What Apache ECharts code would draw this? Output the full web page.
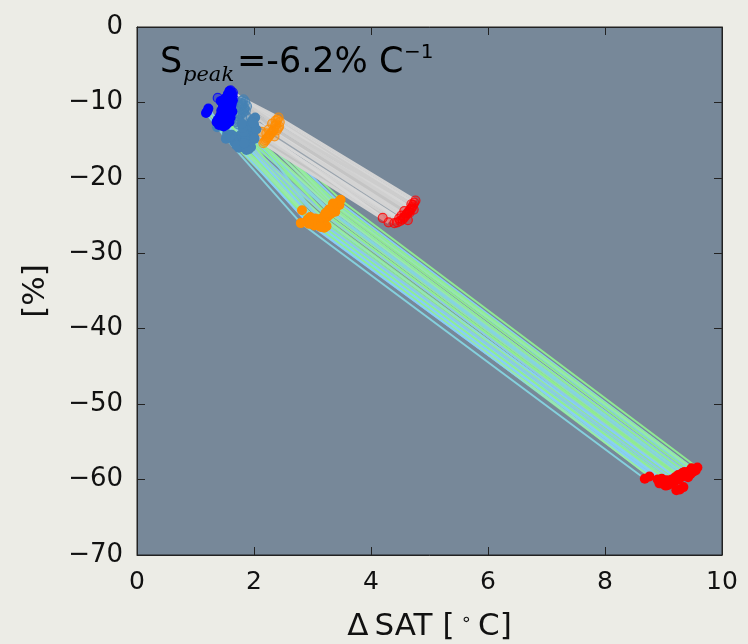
<!DOCTYPE html>
<html><head><meta charset="utf-8">
<script src="https://cdn.jsdelivr.net/npm/echarts@6/dist/echarts.min.js"></script>
<style>html,body{margin:0;padding:0;background:#ecece6;}#c{width:748px;height:644px;}</style>
</head><body><div id="c"></div>
<script>
// ---- Data: filled-marker models (green/blue lines), index i = one model ----
const filledBlue = [[1.58,-8.5],[1.62,-8.8],[1.55,-9.0],[1.60,-9.2],[1.50,-9.5],[1.64,-9.7],[1.53,-9.9],[1.58,-10.1],[1.47,-10.3],[1.61,-10.5],[1.52,-10.7],[1.57,-10.9],[1.44,-11.1],[1.63,-11.2],[1.49,-11.4],[1.55,-11.6],[1.42,-11.8],[1.60,-12.0],[1.46,-12.2],[1.54,-12.4],[1.38,-12.3],[1.58,-12.6],[1.45,-12.8],[1.52,-13.0],[1.48,-13.2],[1.56,-11.0],[1.36,-12.6],[1.51,-11.5],[1.40,-13.0],[1.22,-10.8],[1.20,-11.2],[1.18,-11.4],[1.62,-10.2],[1.57,-9.4],[1.59,-11.8],[1.50,-12.1],[1.53,-12.9],[1.61,-11.4],[1.47,-10.6],[1.43,-9.8]];
const filledSteel = [[2.02,-12.0],[1.98,-12.3],[1.95,-12.6],[2.00,-12.9],[1.92,-13.1],[1.97,-13.4],[1.90,-13.7],[1.94,-14.0],[1.88,-14.2],[1.99,-14.5],[1.86,-14.7],[1.96,-15.0],[1.84,-15.3],[1.93,-15.6],[1.80,-15.9],[1.91,-16.2],[1.76,-14.4],[1.89,-13.2],[1.72,-14.6],[1.85,-15.1],[1.68,-14.9],[1.82,-13.9],[1.66,-15.2],[1.78,-15.5],[1.64,-14.8],[1.74,-16.0],[1.62,-14.3],[1.70,-15.7],[1.37,-13.3],[1.58,-14.6],[1.54,-14.2],[1.52,-14.8],[2.04,-13.6],[2.01,-14.8],[1.95,-15.9],[1.87,-16.3],[1.83,-15.4],[1.98,-12.7],[1.81,-13.4],[1.79,-12.8]];
const filledOrange = [[3.48,-22.9],[3.45,-23.2],[3.43,-23.4],[3.41,-23.6],[3.40,-23.9],[3.38,-24.1],[3.36,-24.3],[3.34,-24.0],[3.33,-24.6],[3.31,-24.8],[3.29,-24.4],[3.27,-25.0],[3.25,-25.2],[3.23,-24.9],[3.21,-25.4],[3.19,-25.6],[3.17,-25.3],[3.15,-25.8],[3.13,-25.5],[3.11,-26.0],[3.09,-25.7],[3.07,-26.2],[3.05,-25.4],[3.03,-26.3],[3.01,-25.6],[2.98,-25.9],[2.96,-25.2],[2.94,-26.1],[2.92,-25.5],[2.90,-25.8],[2.82,-24.3],[2.80,-26.0],[3.46,-23.6],[3.39,-24.5],[3.24,-26.4],[3.20,-26.6],[3.14,-26.5],[3.35,-23.4],[3.28,-24.2],[3.22,-24.7]];
const filledRed = [[9.58,-58.4],[9.52,-58.6],[9.48,-58.7],[9.50,-59.0],[9.44,-58.9],[9.40,-59.2],[9.46,-59.3],[9.36,-59.0],[9.38,-59.5],[9.32,-59.6],[9.30,-59.3],[9.28,-59.8],[9.26,-59.9],[9.24,-60.0],[9.22,-60.1],[9.20,-59.7],[9.18,-60.2],[9.16,-60.4],[9.14,-60.0],[9.12,-60.5],[9.10,-60.3],[9.08,-60.7],[9.06,-60.1],[9.04,-60.8],[9.02,-60.4],[9.00,-60.6],[8.97,-59.9],[8.95,-60.2],[8.93,-60.5],[8.90,-60.0],[8.76,-59.6],[8.68,-59.9],[9.55,-58.8],[9.42,-59.7],[9.34,-61.0],[9.28,-61.3],[9.22,-61.4],[9.48,-58.5],[9.33,-59.1],[9.25,-59.4]];
// ---- Data: hollow-marker models (grey lines) ----
const hollowBlue = [[1.60,-8.4],[1.64,-8.7],[1.56,-8.9],[1.62,-9.1],[1.58,-9.3],[1.66,-9.6],[1.54,-9.8],[1.61,-10.0],[1.38,-9.4],[1.59,-10.7],[1.52,-10.4],[1.57,-11.0],[1.50,-11.3],[1.55,-11.6],[1.48,-11.9],[1.53,-12.2],[1.46,-12.5],[1.63,-9.0],[1.58,-8.6],[1.51,-10.8],[1.60,-12.0],[1.65,-10.3],[1.49,-9.7],[1.56,-11.9]];
const hollowSteel = [[1.82,-9.6],[1.85,-9.9],[1.78,-10.1],[1.80,-10.4],[1.76,-10.6],[1.84,-10.8],[1.79,-11.0],[1.83,-11.2],[1.74,-10.3],[1.81,-11.4],[1.77,-11.6],[1.86,-11.1],[1.72,-11.8],[1.80,-12.0],[1.75,-12.3],[1.70,-12.6],[1.73,-12.9],[1.88,-10.5],[1.79,-9.8],[1.83,-10.9],[1.76,-11.5],[1.87,-11.9],[1.81,-10.2],[1.74,-12.5]];
const hollowOrange = [[2.42,-12.0],[2.40,-12.3],[2.44,-12.6],[2.38,-12.9],[2.36,-13.1],[2.41,-13.4],[2.34,-13.6],[2.32,-13.8],[2.30,-14.0],[2.28,-14.2],[2.26,-14.4],[2.24,-14.6],[2.22,-14.8],[2.20,-15.0],[2.18,-15.2],[2.13,-13.9],[2.16,-15.4],[2.37,-12.4],[2.43,-13.2],[2.35,-14.5],[2.25,-13.6],[2.31,-12.8],[2.39,-13.7],[2.21,-14.1]];
const hollowRed = [[4.76,-23.0],[4.74,-23.3],[4.72,-23.6],[4.70,-23.9],[4.68,-24.1],[4.66,-24.3],[4.64,-24.5],[4.62,-24.7],[4.60,-24.9],[4.58,-25.1],[4.56,-25.3],[4.54,-25.5],[4.50,-25.7],[4.45,-25.9],[4.40,-26.0],[4.20,-25.3],[4.30,-25.9],[4.73,-24.2],[4.69,-23.5],[4.63,-25.6],[4.52,-25.0],[4.66,-24.6],[4.57,-24.4],[4.48,-25.4]];
// ---- Axis ticks ----
const xTicks = [0, 2, 4, 6, 8, 10];
const yTicks = [-70, -60, -50, -40, -30, -20, -10, 0];
const slopeText = '=-6.2% C';

const greenPalette = ['#90ee90','#87cefa','#98eaa8','#86d4e0','#90ee90','#9ae6b4','#8cc8e8'];
const greyPalette = ['#d3d3d3','#d6d6d6','#cdcdcd','#9aa4ae','#d3d3d3','#d0d0d0','#c4c4c4','#d8d8d8'];

const filledLines = filledBlue.map((b,i)=>({coords:[b, filledSteel[i], filledOrange[i], filledRed[i]], lineStyle:{color: greenPalette[i%greenPalette.length]}}));
const hollowLines = hollowBlue.map((b,i)=>({coords:[b, hollowSteel[i], hollowOrange[i], hollowRed[i]], lineStyle:{color: greyPalette[i%greyPalette.length]}}));

const fmt = v => String(v).replace('-', '\u2212');
const font = 'DejaVu Sans';
const chart = echarts.init(document.getElementById('c'), null, {renderer:'canvas'});

function scat(data, color, hollow, z){
  return {type:'scatter', data, symbol:'circle', symbolSize: hollow?9:10, z,
    itemStyle: hollow ? {color: echarts.color.modifyAlpha(color,0.45), borderColor: color, borderWidth:1.2} : {color, opacity:1},
    emphasis:{disabled:true}, silent:true};
}

chart.setOption({
  backgroundColor:'#ecece6',
  animation:false,
  grid:{left:137, right:26, top:27, bottom:89, containLabel:false, outerBoundsMode:'none', show:true, backgroundColor:'#778899', borderColor:'#222', borderWidth:1},
  xAxis:[{type:'value', min:0, max:10, interval:2, position:'bottom',
    axisLine:{show:true, onZero:false, lineStyle:{color:'#222'}},
    axisTick:{show:true, inside:true, length:8, lineStyle:{color:'#222'}},
    axisLabel:{color:'#111', fontFamily:font, fontSize:25, margin:15, formatter:fmt},
    splitLine:{show:false},
    name:'{a|\u0394\u2009SAT [\u2009}{s|\u2218}{a|\u2009C]}', nameLocation:'middle', nameGap:56,
    nameTextStyle:{color:'#111', fontFamily:font, fontSize:31, rich:{a:{fontFamily:font, fontSize:31, color:'#111'}, s:{fontFamily:font, fontSize:18, color:'#111', padding:[0,0,14,0]}}}},
   {type:'value', min:0, max:10, interval:2, position:'top',
    axisLine:{show:true, onZero:false, lineStyle:{color:'#222'}},
    axisTick:{show:true, inside:true, length:8, lineStyle:{color:'#222'}},
    axisLabel:{show:false}, splitLine:{show:false}}],
  yAxis:[{type:'value', min:-70, max:0, interval:10, position:'left',
    axisLine:{show:true, onZero:false, lineStyle:{color:'#222'}},
    axisTick:{show:true, inside:true, length:8, lineStyle:{color:'#222'}},
    axisLabel:{color:'#111', fontFamily:font, fontSize:26, margin:14, formatter:fmt},
    splitLine:{show:false},
    name:'[%]', nameLocation:'middle', nameGap:86, nameRotate:90, nameTextStyle:{color:'#111', fontFamily:font, fontSize:31}},
   {type:'value', min:-70, max:0, interval:10, position:'right',
    axisLine:{show:true, onZero:false, lineStyle:{color:'#222'}},
    axisTick:{show:true, inside:true, length:8, lineStyle:{color:'#222'}},
    axisLabel:{show:false}, splitLine:{show:false}}],
  series:[
    {type:'lines', coordinateSystem:'cartesian2d', polyline:true, data: filledLines, lineStyle:{width:2, opacity:0.95}, z:1, silent:true},
    {type:'lines', coordinateSystem:'cartesian2d', polyline:true, data: hollowLines, lineStyle:{width:3, opacity:1}, z:2, silent:true},
    scat(hollowBlue,'#0000ff',true,3), scat(hollowSteel,'#4682b4',true,3), scat(hollowOrange,'#ff8c00',true,3), scat(hollowRed,'#ff0000',true,3),
    scat(filledSteel,'#4682b4',false,4), scat(filledBlue,'#0000ff',false,5), scat(filledOrange,'#ff8c00',false,4), scat(filledRed,'#ff0000',false,4)
  ],
  graphic:[
    {type:'text', left:160, top:45, z:100, style:{text:'S', font:'35px "DejaVu Sans"', fill:'#000'}},
    {type:'text', left:183, top:65, z:100, style:{text:'peak', font:'italic 21px "DejaVu Serif"', fill:'#000'}},
    {type:'text', left:237, top:45, z:100, style:{text:slopeText, font:'35px "DejaVu Sans"', fill:'#000'}},
    {type:'text', left:404, top:43, z:100, style:{text:'\u22121', font:'20px "DejaVu Sans"', fill:'#000'}}
  ]
});
</script></body></html>
